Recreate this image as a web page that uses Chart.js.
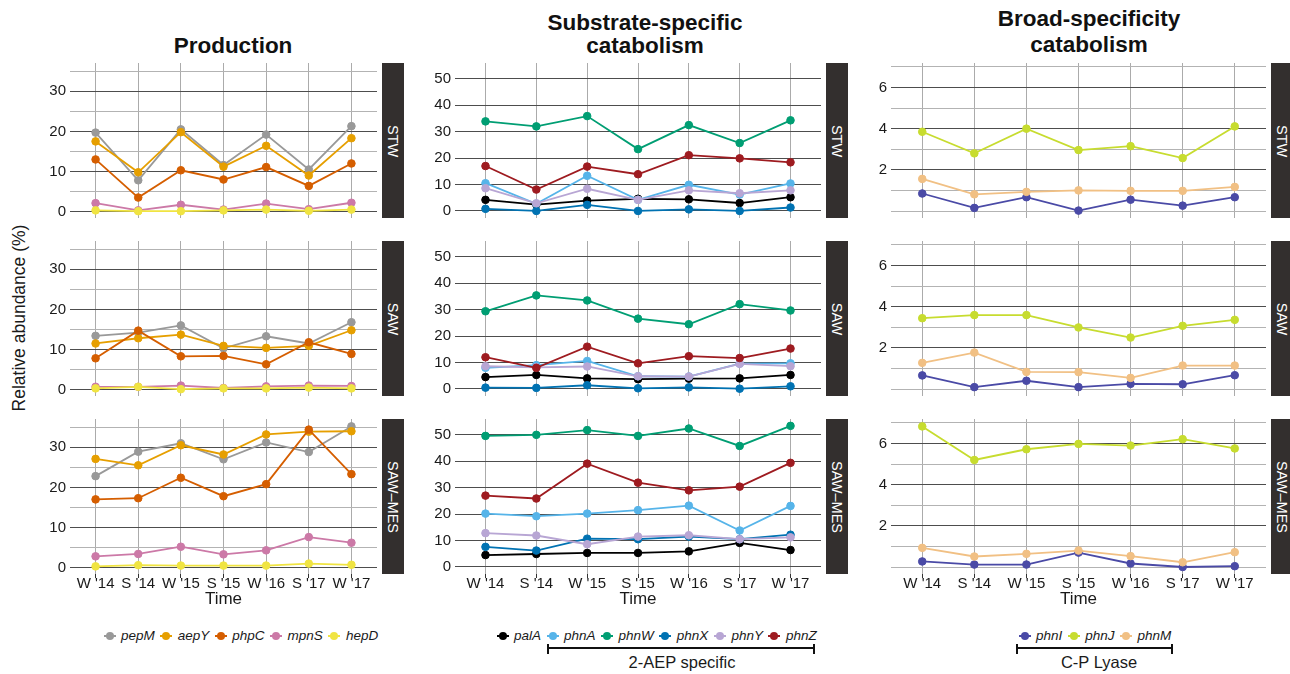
<!DOCTYPE html>
<html lang="en">
<head>
  <meta charset="UTF-8">
  <title>Phosphonate genes over time</title>
  <script src="https://cdn.jsdelivr.net/npm/chart.js@4"></script>
  <style>
    body { margin: 0; width: 1290px; height: 674px; position: relative; overflow: hidden; background: #fff;
           font-family: "Liberation Sans", Arial, Helvetica, sans-serif; color: #1a1a1a; }
    .txt { position: absolute; transform: translate(-50%, -50%); white-space: nowrap; line-height: 1; }
    .title { font-weight: bold; font-size: 22.5px; color: #111; }
    .strip { position: absolute; background: #332f2e; }
    .strip span { position: absolute; left: 50%; top: 50%; transform: translate(-50%, -50%) rotate(90deg);
                  color: #fff; font-size: 14.5px; white-space: nowrap; line-height: 1; }
    .legend { position: absolute; display: flex; align-items: center; font-style: italic; font-size: 13.5px; line-height: 1; }
    .key { position: relative; width: 12px; height: 10px; margin: 0 5.5px; }
    .key::before { content: ''; position: absolute; left: 0; right: 0; top: 4px; height: 2px; background: currentColor; }
    .key::after { content: ''; position: absolute; left: 2px; top: 1px; width: 8px; height: 8px; border-radius: 50%; background: currentColor; }
    .bracket { position: absolute; border-top: 2px solid #111; height: 0; }
    .bracket::before, .bracket::after { content: ''; position: absolute; top: -5px; width: 2px; height: 10px; background: #111; }
    .bracket::before { left: 0; }
    .bracket::after { right: 0; }
  </style>
</head>
<body>
  <!-- titres -->
  <div class="txt title" style="left:233px;top:46px">Production</div>
  <div class="txt title" style="left:645px;top:23px">Substrate-specific</div>
  <div class="txt title" style="left:645px;top:46px">catabolism</div>
  <div class="txt title" style="left:1089px;top:19px">Broad-specificity</div>
  <div class="txt title" style="left:1089px;top:45px">catabolism</div>
  <div class="txt" style="left:20px;top:318px;font-size:17.5px;transform:translate(-50%,-50%) rotate(-90deg)">Relative abundance (%)</div>

  <script>
    const TIME_LABELS = ["W '14", "S '14", "W '15", "S '15", "W '16", "S '17", "W '17"];
    const SITES = ['STW', 'SAW', 'SAW\u2013MES'];

    // rows = STW, SAW, SAW–MES
    const pepM = [
      [19.7, 7.8, 20.5, 11.6, 19.2, 10.5, 21.3],
      [13.4, 14.2, 16.0, 10.3, 13.3, 11.5, 16.8],
      [22.8, 28.9, 31.0, 27.0, 31.2, 28.8, 35.2]
    ];
    const aepY = [
      [17.5, 9.8, 19.8, 11.2, 16.4, 9.0, 18.3],
      [11.5, 12.8, 13.7, 10.9, 10.4, 10.9, 14.8],
      [27.1, 25.5, 30.5, 28.2, 33.2, 33.9, 34.0]
    ];
    const phpC = [
      [13.0, 3.5, 10.3, 8.0, 11.1, 6.4, 12.0],
      [7.8, 14.7, 8.3, 8.4, 6.3, 11.8, 8.9],
      [17.0, 17.3, 22.4, 17.8, 20.8, 34.4, 23.3]
    ];
    const mpnS = [
      [2.1, 0.3, 1.7, 0.5, 2.0, 0.6, 2.2],
      [0.7, 0.7, 1.0, 0.4, 0.8, 1.0, 0.9],
      [2.8, 3.4, 5.2, 3.3, 4.3, 7.6, 6.2]
    ];
    const hepD = [
      [0.3, 0.1, 0.1, 0.3, 0.5, 0.2, 0.5],
      [0.3, 0.7, 0.1, 0.3, 0.3, 0.5, 0.3],
      [0.3, 0.6, 0.5, 0.5, 0.5, 1.0, 0.7]
    ];

    const palA = [
      [4.2, 2.4, 3.9, 4.6, 4.4, 3.0, 5.2],
      [4.5, 5.3, 4.0, 3.7, 3.9, 4.0, 5.3],
      [4.5, 4.9, 5.3, 5.3, 5.9, 9.1, 6.4]
    ];
    const phnA = [
      [10.5, 2.7, 13.3, 4.2, 9.9, 6.2, 10.4],
      [8.0, 9.0, 10.6, 4.8, 4.7, 9.6, 9.7],
      [20.2, 19.2, 20.2, 21.5, 23.2, 13.8, 23.1]
    ];
    const phnW = [
      [33.9, 32.0, 35.9, 23.4, 32.5, 25.7, 34.3],
      [29.4, 35.4, 33.5, 26.6, 24.5, 32.1, 29.7],
      [49.6, 50.0, 51.8, 49.6, 52.4, 45.8, 53.4]
    ];
    const phnX = [
      [0.8, 0.0, 2.3, 0.0, 0.6, 0.0, 1.3],
      [0.5, 0.4, 1.4, 0.25, 0.6, 0.1, 1.0],
      [7.6, 6.2, 10.7, 10.5, 11.5, 10.5, 12.2]
    ];
    const phnY = [
      [8.6, 2.9, 8.4, 4.2, 7.8, 6.7, 7.8],
      [8.6, 8.2, 8.5, 4.8, 4.7, 9.5, 8.6],
      [12.8, 11.9, 8.6, 11.5, 12.0, 10.5, 11.2]
    ];
    const phnZ = [
      [17.0, 8.1, 16.8, 13.9, 21.1, 19.9, 18.4],
      [12.0, 8.0, 16.0, 9.7, 12.4, 11.7, 15.3],
      [27.0, 25.9, 39.1, 31.9, 29.0, 30.4, 39.4]
    ];

    const phnI = [
      [0.85, 0.15, 0.67, 0.02, 0.55, 0.26, 0.67],
      [0.66, 0.09, 0.40, 0.09, 0.25, 0.23, 0.67],
      [0.27, 0.12, 0.12, 0.70, 0.17, 0.0, 0.04]
    ];
    const phnJ = [
      [3.85, 2.8, 4.0, 2.96, 3.15, 2.57, 4.11],
      [3.44, 3.59, 3.59, 2.99, 2.5, 3.07, 3.36],
      [6.83, 5.2, 5.72, 5.98, 5.9, 6.21, 5.76]
    ];
    const phnM = [
      [1.56, 0.81, 0.93, 1.0, 0.98, 0.98, 1.17],
      [1.27, 1.77, 0.83, 0.82, 0.54, 1.14, 1.14],
      [0.93, 0.51, 0.64, 0.8, 0.53, 0.23, 0.72]
    ];

    const PRODUCTION = ['pepM', 'aepY', 'phpC', 'mpnS', 'hepD'];
    const SUBSTRATE = ['palA', 'phnA', 'phnW', 'phnX', 'phnY', 'phnZ'];
    const BROAD = ['phnI', 'phnJ', 'phnM'];

    const PROD_TICKS = [0, 10, 20, 30];
    const PROD_MINOR = [5, 15, 25, 35];
    const SUB_TICKS = [0, 10, 20, 30, 40, 50];
    const SUB_MINOR = [5, 15, 25, 35, 45, 55];
    const BROAD_TICKS = [2, 4, 6];
    const BROAD_MINOR = [0, 1, 3, 5, 7];

    const SERIES = { pepM, aepY, phpC, mpnS, hepD, palA, phnA, phnW, phnX, phnY, phnZ, phnI, phnJ, phnM };

    const COLORS = {
      pepM: '#999999', aepY: '#e69f00', phpC: '#d55e00', mpnS: '#cc79a7', hepD: '#f0e442',
      palA: '#000000', phnA: '#56b4e9', phnW: '#009e73', phnX: '#0072b2', phnY: '#b8a6d4', phnZ: '#9e1b20',
      phnI: '#4a4aa6', phnJ: '#c7dc2f', phnM: '#f1c084'
    };

    // une colonne de panneaux par groupe
    const COLUMNS = [
      { genes: PRODUCTION, major: PROD_TICKS, minor: PROD_MINOR, yMin: -1.6, yMax: 37.05, left: 70, right: 382 },
      { genes: SUBSTRATE, major: SUB_TICKS, minor: SUB_MINOR, yMin: -2.67, yMax: 56.0, left: 455, right: 826 },
      { genes: BROAD, major: BROAD_TICKS, minor: BROAD_MINOR, yMin: -0.34, yMax: 7.19, left: 891, right: 1271 }
    ];
    const PANEL_TOPS = [63, 241, 419];
    const PANEL_H = 155;
    const STRIP_W = 22;
    const Y_AXIS_W = 44;
    const PAD = 8;
    const X_AXIS_H = 37;

    Chart.defaults.font.family = '"Liberation Sans", Arial, Helvetica, sans-serif';
    Chart.defaults.color = '#1a1a1a';

    COLUMNS.forEach(col => {
      const allTicks = col.major.concat(col.minor).sort((a, b) => a - b);
      SITES.forEach((site, r) => {
        const bottomRow = r === SITES.length - 1;
        const w = col.right - col.left + Y_AXIS_W;
        const h = PAD + PANEL_H + (bottomRow ? X_AXIS_H : PAD);
        const canvas = document.createElement('canvas');
        canvas.width = w;
        canvas.height = h;
        canvas.style.cssText = `position:absolute;left:${col.left - Y_AXIS_W}px;top:${PANEL_TOPS[r] - PAD}px;width:${w}px;height:${h}px`;
        document.body.appendChild(canvas);

        new Chart(canvas, {
          type: 'line',
          data: {
            datasets: col.genes.map((g, i) => ({
              label: g,
              data: SERIES[g][r].map((v, k) => ({ x: k, y: v })),
              borderColor: COLORS[g],
              backgroundColor: COLORS[g],
              pointBackgroundColor: COLORS[g],
              pointBorderColor: COLORS[g],
              borderWidth: 1.8,
              pointRadius: 3.8,
              pointBorderWidth: 1,
              tension: 0,
              order: -i
            }))
          },
          options: {
            responsive: false,
            animation: false,
            devicePixelRatio: 1,
            layout: { padding: { top: PAD, bottom: bottomRow ? 0 : PAD, left: 0, right: 0 } },
            plugins: { legend: { display: false }, tooltip: { enabled: false } },
            scales: {
              x: {
                type: 'linear',
                min: -0.6,
                max: 6.6,
                afterBuildTicks: s => { s.ticks = TIME_LABELS.map((_, k) => ({ value: k })); },
                afterFit: s => { s.height = bottomRow ? X_AXIS_H : 0; s.paddingLeft = 0; s.paddingRight = 0; },
                border: { display: false },
                grid: { color: '#ababab', lineWidth: 1, drawTicks: bottomRow, tickLength: 4, tickColor: '#333' },
                ticks: {
                  display: bottomRow,
                  autoSkip: false, maxRotation: 0, minRotation: 0,
                  padding: -2,
                  color: '#1a1a1a',
                  font: { size: 15, lineHeight: 1 },
                  callback: v => TIME_LABELS[v]
                },
                title: { display: bottomRow, text: 'Time', color: '#1a1a1a', font: { size: 17 }, padding: { top: 0, bottom: 1 } }
              },
              y: {
                min: col.yMin,
                max: col.yMax,
                afterBuildTicks: s => { s.ticks = allTicks.map(v => ({ value: v })); },
                afterFit: s => { s.width = Y_AXIS_W; s.paddingTop = 0; s.paddingBottom = 0; },
                border: { display: false },
                grid: {
                  color: ctx => col.major.includes(ctx.tick.value) ? '#4d4d4d' : '#b3b3b3',
                  lineWidth: 1,
                  drawTicks: false
                },
                ticks: {
                  padding: 4,
                  color: '#1a1a1a',
                  font: { size: 15, lineHeight: 1 },
                  callback: v => col.major.includes(v) ? String(v) : ''
                }
              }
            }
          }
        });

        // bandeau du site
        const strip = document.createElement('div');
        strip.className = 'strip';
        strip.style.cssText = `left:${col.right}px;top:${PANEL_TOPS[r]}px;width:${STRIP_W}px;height:${PANEL_H}px`;
        strip.innerHTML = `<span>${site}</span>`;
        document.body.appendChild(strip);
      });
    });

    // légendes
    function addLegend(genes, left) {
      const box = document.createElement('div');
      box.className = 'legend';
      box.style.left = left + 'px';
      box.style.top = '629px';
      genes.forEach(g => {
        const key = document.createElement('span');
        key.className = 'key';
        key.style.color = COLORS[g];
        const label = document.createElement('span');
        label.textContent = g;
        box.appendChild(key);
        box.appendChild(label);
      });
      document.body.appendChild(box);
    }
    addLegend(PRODUCTION, 98);
    addLegend(SUBSTRATE, 491);
    addLegend(BROAD, 1013);

    function addBracket(left, right, text, cx) {
      const b = document.createElement('div');
      b.className = 'bracket';
      b.style.cssText = `left:${left}px;top:647px;width:${right - left}px`;
      document.body.appendChild(b);
      const t = document.createElement('div');
      t.className = 'txt';
      t.style.cssText = `left:${cx}px;top:662px;font-size:16.5px`;
      t.textContent = text;
      document.body.appendChild(t);
    }
    addBracket(547, 815, '2-AEP specific', 682);
    addBracket(1016, 1173, 'C-P Lyase', 1099);
  </script>
</body>
</html>
